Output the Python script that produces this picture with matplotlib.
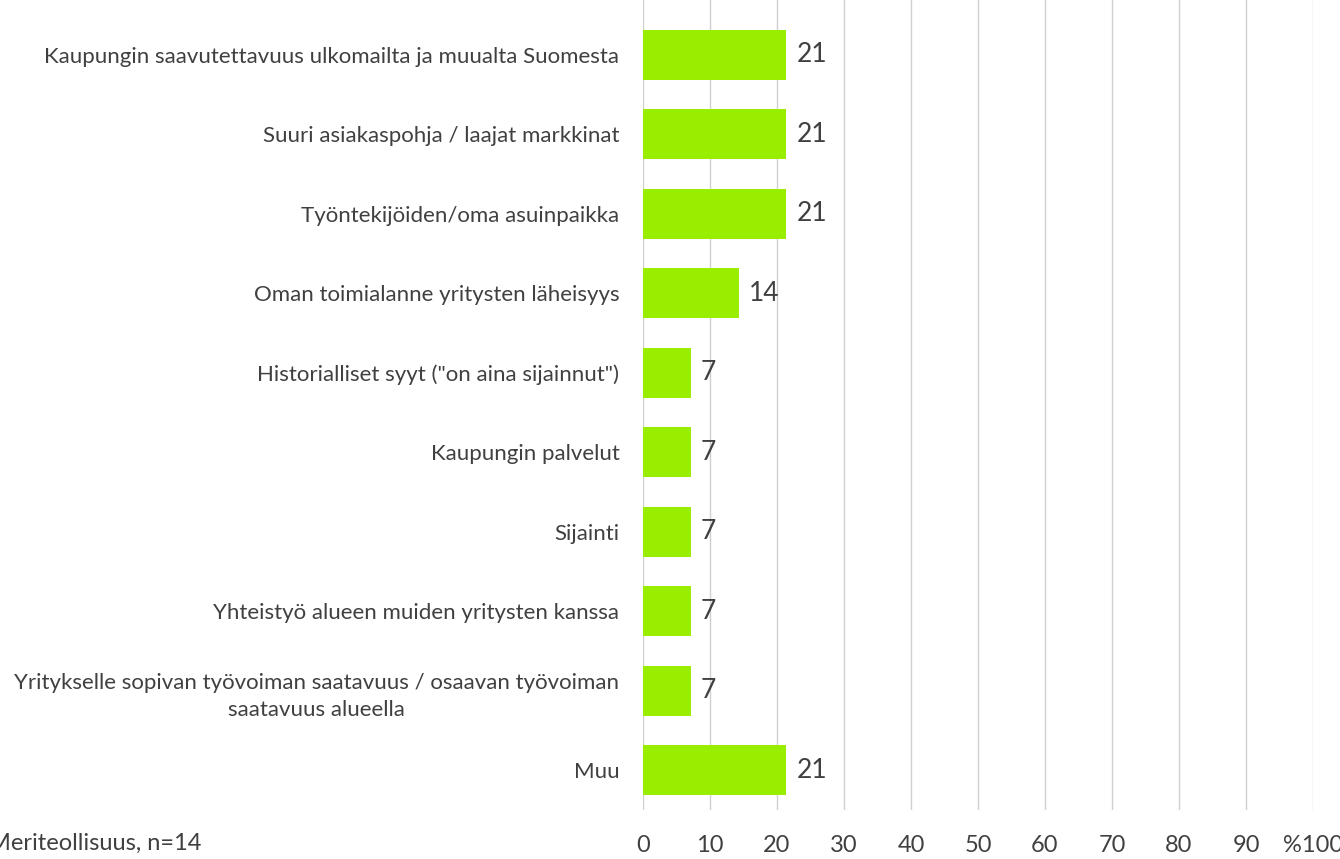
import matplotlib.pyplot as plt

categories = [
    "Kaupungin saavutettavuus ulkomailta ja muualta Suomesta",
    "Suuri asiakaspohja / laajat markkinat",
    "Työntekijöiden/oma asuinpaikka",
    "Oman toimialanne yritysten läheisyys",
    'Historialliset syyt ("on aina sijainnut")',
    "Kaupungin palvelut",
    "Sijainti",
    "Yhteistyö alueen muiden yritysten kanssa",
    "Yritykselle sopivan työvoiman saatavuus / osaavan työvoiman\nsaatavuus alueella",
    "Muu",
]
values = [21.4, 21.4, 21.4, 14.3, 7.1, 7.1, 7.1, 7.1, 7.1, 21.4]
xticks = [0, 10, 20, 30, 40, 50, 60, 70, 80, 90, 100]
xticklabels = ["0", "10", "20", "30", "40", "50", "60", "70", "80", "90", "%100"]
note = "Meriteollisuus, n=14"

plt.rcParams['font.family'] = ['Lato', 'DejaVu Sans']
txt = '#404040'

fig = plt.figure(figsize=(13.4, 8.59), dpi=100)
ax = fig.add_axes([643/1340, 1-810/859, 670/1340, 810/859])

y = list(range(len(categories)))
ax.barh(y, values, height=0.63, color='#99EE00', zorder=3)
for yi, v in zip(y, values):
    ax.text(v + 1.5, yi, f"{v:.0f}", va='center', ha='left', fontsize=19, color=txt)

ax.set_xlim(0, 100)
ax.set_ylim(9.5, -0.686)
ax.set_xticks(xticks)
ax.set_xticklabels(xticklabels, fontsize=17, color=txt)
ax.set_yticks(y)
ax.set_yticklabels(categories, fontsize=16, color=txt, multialignment='center', linespacing=1.45)
ax.tick_params(axis='both', length=0)
ax.tick_params(axis='y', pad=17)
ax.tick_params(axis='x', pad=18)
ax.grid(axis='x', color='#D0D0D0', lw=1, zorder=0)
for s in ax.spines.values():
    s.set_visible(False)

fig.text(-0.008, 1-843/859, note, fontsize=17, color=txt, va='center', ha='left')

fig.savefig('out.png', dpi=100)
